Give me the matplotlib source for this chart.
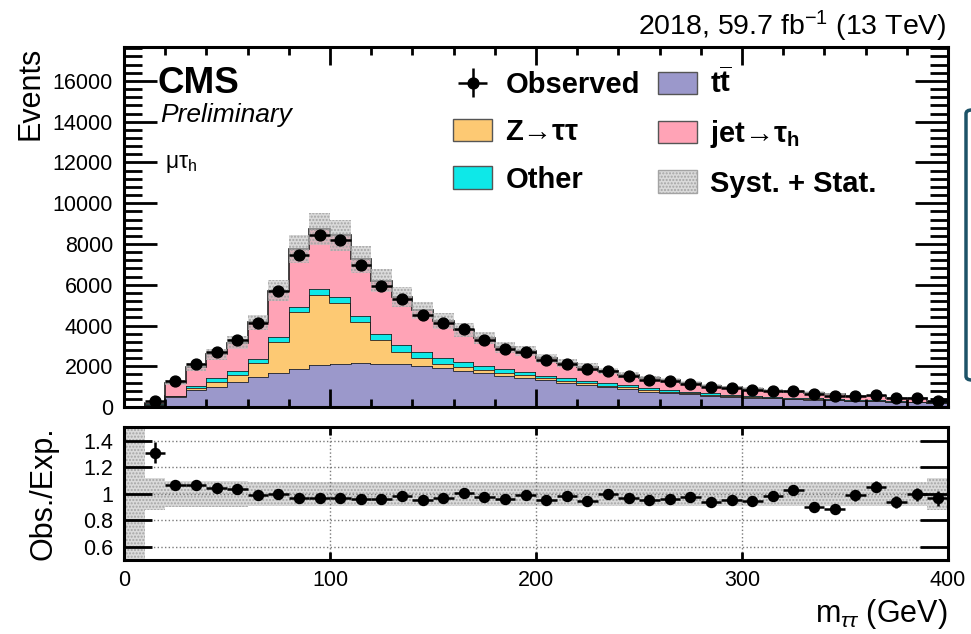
import numpy as np
import matplotlib
matplotlib.use("Agg")
import matplotlib.pyplot as plt
from matplotlib.patches import Patch, FancyBboxPatch
from matplotlib.ticker import MultipleLocator

plt.rcParams['font.family'] = ['Liberation Sans', 'DejaVu Sans']
plt.rcParams['mathtext.fontset'] = 'custom'
plt.rcParams['mathtext.rm'] = 'Liberation Sans'
plt.rcParams['mathtext.it'] = 'Liberation Sans:italic'
plt.rcParams['mathtext.bf'] = 'Liberation Sans:bold'
plt.rcParams['hatch.linewidth'] = 1.0

# m_tautau binning (GeV)
edges = np.arange(0, 410, 10)

# stacked backgrounds (events per bin)
tt = [0, 100, 500, 850, 1000, 1240, 1490, 1650, 1850, 2060,
      2110, 2140, 2130, 2090, 2010, 1900, 1780, 1650, 1520, 1410,
      1320, 1190, 1080, 970, 880, 750, 670, 620, 540, 500,
      450, 420, 380, 360, 330, 300, 280, 250, 230, 200]
ztt = [0, 10, 20, 100, 240, 330, 650, 1550, 2830, 3440,
       3010, 2050, 1160, 590, 380, 200, 200, 170, 160, 160,
       100, 100, 90, 80, 90, 70, 70, 60, 60, 40,
       40, 30, 30, 30, 25, 20, 20, 20, 15, 15]
other = [0, 20, 30, 80, 170, 200, 200, 250, 240, 280,
         300, 300, 290, 360, 320, 290, 210, 210, 170, 130,
         120, 120, 110, 110, 110, 100, 90, 70, 70, 50,
         50, 40, 40, 40, 35, 30, 30, 25, 25, 20]
jetfake = [0, 80, 650, 950, 1170, 1390, 1810, 2250, 2820, 2970,
           3010, 2760, 2620, 2360, 2040, 1840, 1610, 1360, 1090, 1030,
           860, 750, 680, 610, 510, 480, 490, 430, 360, 370,
           360, 310, 310, 270, 240, 210, 230, 155, 190, 85]
# observed events
obs = [0, 275, 1284, 2119, 2696, 3286, 4109, 5700, 7469, 8444,
       8194, 6960, 5952, 5292, 4513, 4103, 3819, 3305, 2831, 2703,
       2292, 2117, 1858, 1770, 1534, 1337, 1271, 1151, 963, 917,
       853, 784, 783, 630, 558, 554, 591, 423, 458, 309]
# relative syst.+stat. uncertainty of the expectation
unc = [1.0, 0.12, 0.10, 0.10, 0.10, 0.10, 0.09, 0.09, 0.09, 0.09,
       0.09, 0.09, 0.09, 0.09, 0.09, 0.09, 0.09, 0.09, 0.09, 0.09,
       0.09, 0.09, 0.09, 0.09, 0.09, 0.09, 0.09, 0.09, 0.09, 0.09,
       0.09, 0.09, 0.09, 0.09, 0.09, 0.09, 0.09, 0.09, 0.09, 0.12]

c_tt = '#9b98cb'
c_z = '#fdc973'
c_other = '#0ee8e8'
c_jet = '#ffa3b6'
c_band = (0.76, 0.76, 0.76, 0.6)
c_hatch = '#a4a4a4'

centers = 0.5 * (edges[1:] + edges[:-1])
obs = np.array(obs, dtype=float)
unc = np.array(unc)
layers = [(tt, c_tt), (ztt, c_z), (other, c_other), (jetfake, c_jet)]
total = np.sum([np.array(v, dtype=float) for v, _ in layers], axis=0)
m = obs > 0

fig = plt.figure(figsize=(9.71, 6.34), dpi=100)
ax = fig.add_axes([0.1277, 0.358, 0.8486, 0.568])
rax = fig.add_axes([0.1277, 0.1167, 0.8486, 0.2098])

#########################################################
# main panel
base = np.zeros(len(centers))
for vals, col in layers:
    top = base + np.array(vals, dtype=float)
    ax.stairs(top, edges, baseline=base, fill=True, color=col, lw=0)
    ax.stairs(top, edges, baseline=None, color='#222222', lw=1.2)
    base = top

ax.stairs(total * (1 + unc), edges, baseline=total * (1 - unc), fill=True,
          facecolor=c_band, edgecolor=c_hatch, hatch='.....', lw=0)
obs_h = ax.errorbar(centers[m], obs[m], xerr=5, yerr=np.sqrt(obs[m]), fmt='o',
                    color='black', ms=7.8, lw=1.8, capsize=0)

ax.set_xlim(0, 400)
ax.set_ylim(0, 17670)
ax.xaxis.set_major_locator(MultipleLocator(100))
ax.xaxis.set_minor_locator(MultipleLocator(20))
ax.yaxis.set_major_locator(MultipleLocator(2000))
ax.yaxis.set_minor_locator(MultipleLocator(400))
ax.tick_params(which='both', direction='in', top=True, right=True, labelbottom=False,
               width=2, labelsize=15.5, pad=8)
ax.tick_params(axis='y', which='major', length=24)
ax.tick_params(axis='y', which='minor', length=13)
ax.tick_params(axis='x', which='major', length=13)
ax.tick_params(axis='x', which='minor', length=6)
for s in ax.spines.values():
    s.set_linewidth(2.2)
ax.set_ylabel('Events', fontsize=22, loc='top')
ax.yaxis.set_label_coords(-0.095, 1.0)

ax.text(0.041, 0.872, 'CMS', transform=ax.transAxes, fontsize=26.5, weight='bold', va='baseline')
ax.text(0.044, 0.792, 'Preliminary', transform=ax.transAxes, fontsize=19, style='italic', va='baseline')
ax.text(0.050, 0.664, 'μτ$_\\mathrm{h}$', transform=ax.transAxes, fontsize=16.5, va='baseline')
fig.text(947 / 971, 1 - 35 / 634, '2018, 59.7 fb$^\\mathrm{-1}$ (13 TeV)', fontsize=20.5,
         ha='right', va='baseline')

handles = [obs_h,
           Patch(facecolor=c_z, edgecolor='#555555'),
           Patch(facecolor=c_other, edgecolor='#555555'),
           Patch(facecolor=c_tt, edgecolor='#555555'),
           Patch(facecolor=c_jet, edgecolor='#555555'),
           Patch(facecolor=c_band, edgecolor=c_hatch, hatch='.....')]
labels = ['Observed', 'Z→ττ', 'Other', '$\\mathbf{t}\\overline{\\mathbf{t}}$',
          'jet→τ$_\\mathbf{h}$', 'Syst. + Stat.']
fig.legend(handles, labels, loc='upper left', bbox_to_anchor=(453 / 971, 1 - 68 / 634),
           ncol=2, frameon=False, prop=dict(weight='bold', size=21),
           handlelength=1.35, handleheight=0.8, handletextpad=0.45,
           columnspacing=0.6, labelspacing=0.66, borderpad=0, borderaxespad=0)

#########################################################
# ratio panel
ratio = obs / np.where(total > 0, total, 1)
rerr = np.sqrt(obs) / np.where(total > 0, total, 1)
rax.stairs(1 + unc, edges, baseline=1 - unc, fill=True,
           facecolor=c_band, edgecolor=c_hatch, hatch='.....', lw=0)
rax.errorbar(centers[m], ratio[m], xerr=5, yerr=rerr[m], fmt='o', color='black',
             ms=7.2, lw=1.8, capsize=0)
rax.set_xlim(0, 400)
rax.set_ylim(0.5, 1.505)
rax.set_yticks([0.6, 0.8, 1.0, 1.2, 1.4])
rax.set_yticklabels(['0.6', '0.8', '1', '1.2', '1.4'])
rax.xaxis.set_major_locator(MultipleLocator(100))
rax.grid(True, ls=':', color='#7a7a7a', lw=1.0)
rax.tick_params(which='both', direction='in', top=True, right=True, width=2, labelsize=15.5)
rax.tick_params(axis='y', length=20, pad=8)
rax.tick_params(axis='x', length=6, pad=7)
for s in rax.spines.values():
    s.set_linewidth(2.2)
rax.set_ylabel('Obs./Exp.', fontsize=22)
rax.yaxis.set_label_coords(-0.08, 0.5)
rax.set_xlabel('m$_{\\tau\\tau}$ (GeV)', fontsize=22, loc='right')
rax.xaxis.set_label_coords(1.0, -0.28)
rax.xaxis.label.set_va('top')

# edge of a screen element cut off at the right border
fig.patches.append(FancyBboxPatch((966 / 971, 1 - 380 / 634), 20 / 971, 270 / 634,
                                  boxstyle='round,pad=0,rounding_size=0.006',
                                  transform=fig.transFigure, facecolor='white',
                                  edgecolor='#1d5368', lw=2.5))

fig.savefig('out.png', dpi=100)
